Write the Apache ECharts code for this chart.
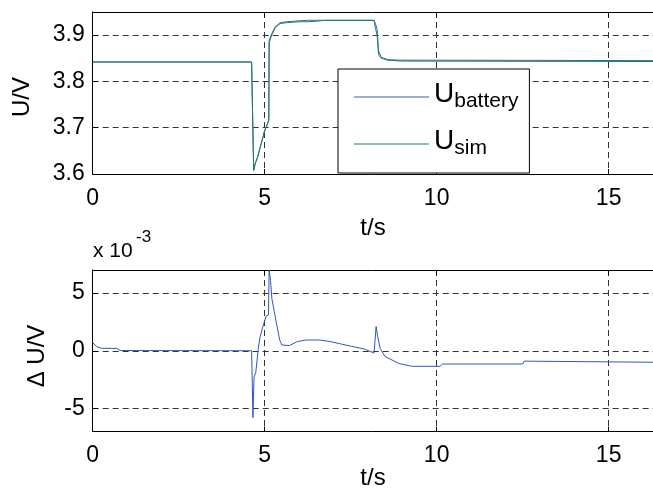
<!DOCTYPE html>
<html>
<head>
<meta charset="utf-8">
<script src="https://cdn.jsdelivr.net/npm/echarts@6/dist/echarts.min.js"></script>
<style>
  html, body { margin: 0; padding: 0; background: #fff; }
  #chart { width: 653px; height: 496px; }
</style>
</head>
<body>
<div id="chart"></div>
<script>
// top plot: measured and simulated terminal voltage (V)
var tTop = [0, 4.62, 4.68, 4.73, 4.80, 4.86, 4.93, 4.99, 5.07, 5.12, 5.13, 5.21, 5.31, 5.45, 5.64, 6.03, 6.25, 6.5, 6.75, 7.2, 8.18, 8.22, 8.27, 8.31, 8.39, 8.58, 8.95, 16.4];
var uBattery = [3.842, 3.842, 3.608, 3.624, 3.638, 3.656, 3.674, 3.692, 3.707, 3.717, 3.884, 3.901, 3.916, 3.925, 3.927, 3.929, 3.929, 3.930, 3.932, 3.932, 3.932, 3.925, 3.912, 3.866, 3.852, 3.847, 3.846, 3.845];
var uSim = [3.842, 3.842, 3.608, 3.623, 3.637, 3.655, 3.673, 3.691, 3.706, 3.716, 3.889, 3.904, 3.918, 3.927, 3.929, 3.931, 3.932, 3.932, 3.932, 3.932, 3.932, 3.915, 3.900, 3.858, 3.850, 3.846, 3.844, 3.843];

// bottom plot: voltage difference (x 10^-3 V)
var tBottom = [0, 0.12, 0.25, 0.7, 0.75, 0.8, 4.62, 4.66, 4.69, 4.74, 4.78, 4.81, 4.86, 4.92, 4.99, 5.04, 5.11, 5.13, 5.17, 5.21, 5.28, 5.36, 5.44, 5.5, 5.72, 5.95, 6.2, 6.6, 6.9, 7.2, 7.5, 7.9, 8.18, 8.24, 8.28, 8.36, 8.5, 8.7, 8.9, 9.2, 9.3, 10.1, 10.17, 12.5, 12.55, 12.6, 16.4];
var dU = [0.7, 0.35, 0.22, 0.2, 0.35, 0.02, 0.0, -5.8, -2.3, -1.9, -0.8, 0.1, 1.1, 1.8, 2.5, 3.0, 3.1, 7.0, 6.1, 4.5, 3.4, 2.1, 0.9, 0.5, 0.45, 0.8, 0.93, 0.93, 0.8, 0.6, 0.4, 0.15, -0.2, 2.1, 1.3, 0.2, -0.5, -0.8, -1.1, -1.3, -1.35, -1.35, -1.15, -1.15, -0.9, -1.0, -1.0];

var xTicks = [0, 5, 10, 15];
var yTopTicks = [3.6, 3.7, 3.8, 3.9];
var yBottomTicks = [-5, 0, 5];

var FONT = "'Liberation Sans', Arial, sans-serif";

function pairs(xs, ys) {
    return xs.map(function (x, i) { return [x, ys[i]]; });
}

function xAxisFor(gridIndex, top) {
    return {
        type: 'value', gridIndex: gridIndex, min: 0, max: 16.29,
        position: top ? 'top' : 'bottom',
        axisLine: { show: true, onZero: false, lineStyle: { color: '#000', width: 1 } },
        axisTick: { show: true, inside: true, length: 5, customValues: xTicks, lineStyle: { color: '#000' } },
        axisLabel: { show: !top, customValues: xTicks, margin: 13, color: '#000', fontSize: 23, fontFamily: FONT },
        splitLine: { show: !top, lineStyle: { color: '#333', type: [6, 4], width: 1 } }
    };
}

function yAxisFor(gridIndex, min, max, ticks) {
    return {
        type: 'value', gridIndex: gridIndex, min: min, max: max,
        axisLine: { show: true, onZero: false, lineStyle: { color: '#000', width: 1 } },
        axisTick: { show: true, inside: true, length: 5, customValues: ticks, lineStyle: { color: '#000' } },
        axisLabel: { customValues: ticks, margin: 8, color: '#000', fontSize: 23, fontFamily: FONT },
        splitLine: { show: true, lineStyle: { color: '#333', type: [6, 4], width: 1 } }
    };
}

function label(text, x, y, size, rotate, align) {
    return {
        type: 'text', x: x, y: y, rotation: rotate ? Math.PI / 2 : 0,
        style: { text: text, font: size + 'px ' + FONT, fill: '#000', align: align || 'center', verticalAlign: 'middle' }
    };
}

var chart = echarts.init(document.getElementById('chart'));
chart.setOption({
    animation: false,
    backgroundColor: '#fff',
    grid: [
        { left: 92.7, top: 12, width: 560.3, height: 162 },
        { left: 92.7, top: 270, width: 560.3, height: 161.5 }
    ],
    xAxis: [xAxisFor(0, false), xAxisFor(0, true), xAxisFor(1, false), xAxisFor(1, true)],
    yAxis: [yAxisFor(0, 3.6, 3.95, yTopTicks), yAxisFor(1, -7, 7, yBottomTicks)],
    legend: {
        data: ['U_battery', 'U_sim'],
        orient: 'vertical', left: 338, top: 69,
        backgroundColor: '#fff', borderColor: '#000', borderWidth: 1,
        padding: [11, 11, 14, 16],
        icon: 'rect',
        itemWidth: 75, itemHeight: 1, itemGap: 15,
        formatter: function (name) { return '{u|U}{s|' + name.slice(2) + '}'; },
        textStyle: {
            rich: {
                u: { fontSize: 28, fontFamily: FONT, color: '#000', lineHeight: 34, verticalAlign: 'top' },
                s: { fontSize: 21, fontFamily: FONT, color: '#000', lineHeight: 34, verticalAlign: 'top', padding: [11, 0, 0, 0] }
            }
        }
    },
    series: [
        {
            name: 'U_battery', type: 'line', xAxisIndex: 0, yAxisIndex: 0,
            data: pairs(tTop, uBattery), symbol: 'none', color: '#3a5fbf',
            lineStyle: { width: 1, color: '#3a5fbf' }
        },
        {
            name: 'U_sim', type: 'line', xAxisIndex: 0, yAxisIndex: 0,
            data: pairs(tTop, uSim), symbol: 'none', color: '#1f7f50',
            lineStyle: { width: 1, color: '#1f7f50' }
        },
        {
            name: 'dU', type: 'line', xAxisIndex: 2, yAxisIndex: 1,
            data: pairs(tBottom, dU), symbol: 'none', color: '#3355bb',
            lineStyle: { width: 1, color: '#3355bb' }
        }
    ],
    graphic: [
        label('U/V', 22, 97, 24, true),
        label('t/s', 373, 228, 24),
        label('Δ U/V', 37, 356, 24, true),
        label('t/s', 373, 478, 24),
        label('x 10', 93, 251, 21, false, 'left'),
        label('-3', 136, 237, 17, false, 'left')
    ]
});
</script>
</body>
</html>
